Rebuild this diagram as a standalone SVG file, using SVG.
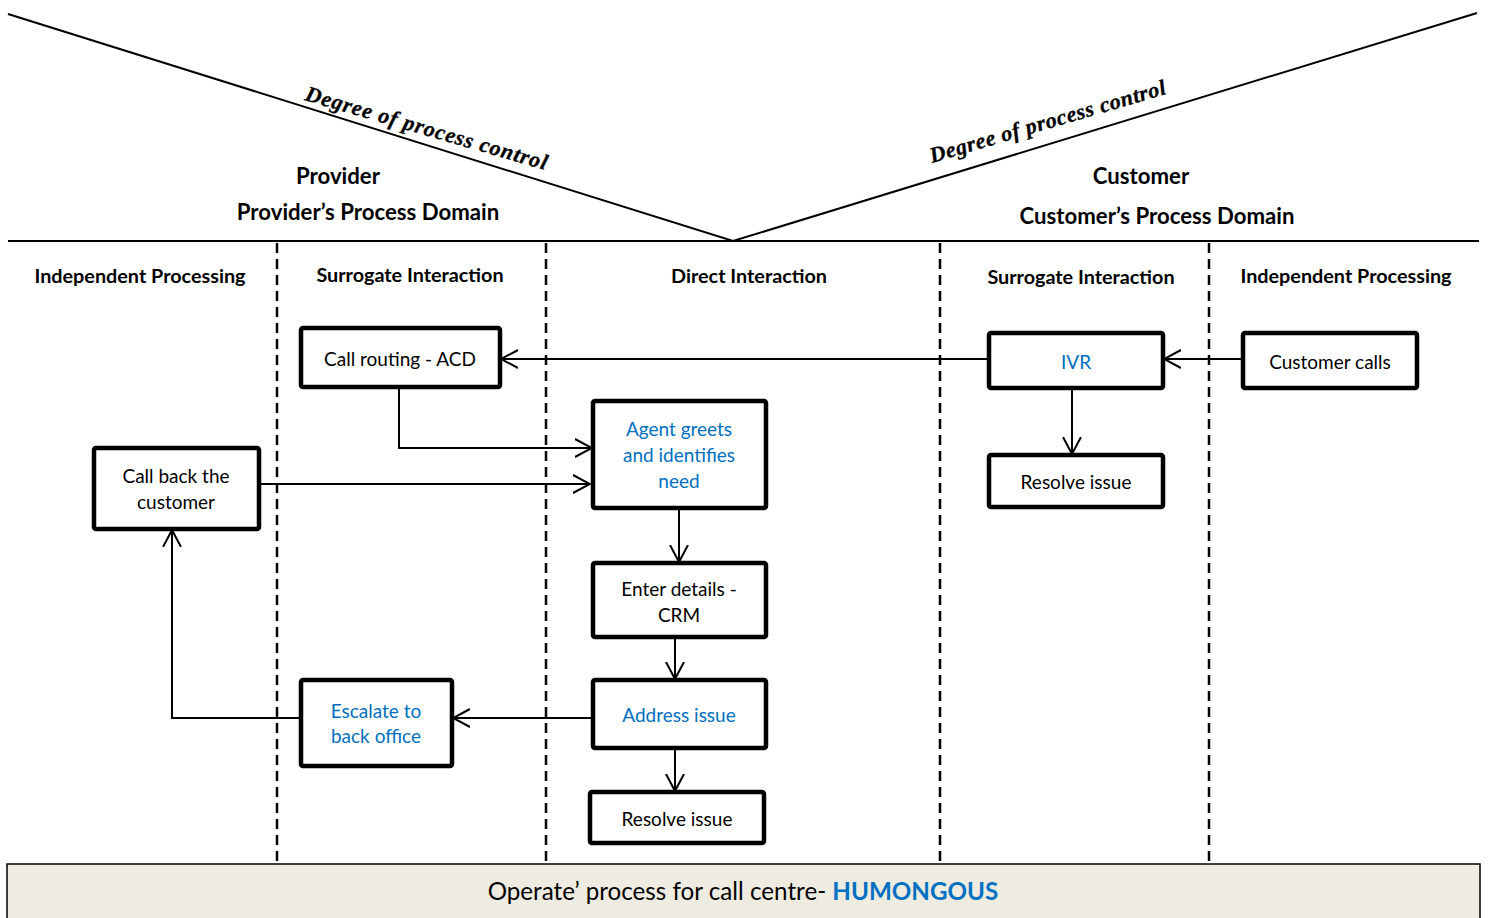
<svg xmlns="http://www.w3.org/2000/svg" width="1491" height="918" viewBox="0 0 1491 918">
  <style>
    .bg { fill: #ffffff; }
    .frame { stroke: #000; stroke-width: 2; fill: none; }
    .lane { stroke: #000; stroke-width: 2.5; stroke-dasharray: 10 6; fill: none; }
    .box { fill: #ffffff; stroke: #000; stroke-width: 4.5; }
    .conn { stroke: #000; stroke-width: 2; fill: none; marker-end: url(#arrow); }
    .lbl { font-family: Lato, "Open Sans", "Liberation Sans", sans-serif; font-size: 19px; fill: #000; text-anchor: middle; }
    .blue { fill: #0070C0; }
    .hdr { font-family: Lato, "Open Sans", "Liberation Sans", sans-serif; font-size: 19.8px; font-weight: bold; fill: #000; text-anchor: middle; }
    .big { font-family: Lato, "Open Sans", "Liberation Sans", sans-serif; font-size: 22.2px; font-weight: bold; fill: #000; text-anchor: middle; }
    .slope { font-family: "Liberation Serif", "Times New Roman", serif; font-size: 22px; font-style: italic; font-weight: bold; fill: #000; stroke: #000; stroke-width: 0.3; }
    .foot { font-family: Lato, "Open Sans", "Liberation Sans", sans-serif; font-size: 24.2px; fill: #000; text-anchor: middle; }
  </style>
  <defs>
    <marker id="arrow" viewBox="0 0 18 20" refX="17" refY="10" markerWidth="18" markerHeight="20" markerUnits="userSpaceOnUse" orient="auto">
      <path d="M0,1 L17,10 L0,19" fill="none" stroke="#000" stroke-width="2"/>
    </marker>
  </defs>

  <rect class="bg" x="0" y="0" width="1491" height="918"/>

  <!-- V of process control and domain divider -->
  <g id="control-v">
    <path class="frame" d="M8,14 L733,241 L1477,13"/>
    <line class="frame" x1="8" y1="241" x2="1479" y2="241"/>
    <text class="slope" transform="translate(304,100) rotate(16.2)" textLength="251" lengthAdjust="spacing">Degree of process control</text>
    <text class="slope" transform="translate(932,163) rotate(-16.4)" textLength="245" lengthAdjust="spacing">Degree of process control</text>
  </g>

  <!-- domain titles -->
  <g id="domains">
    <text class="big" x="338" y="184">Provider</text>
    <text class="big blue" x="368" y="220">Provider’s Process Domain</text>
    <text class="big" x="1141" y="184">Customer</text>
    <text class="big" x="1157" y="224">Customer’s Process Domain</text>
  </g>

  <!-- swimlane separators and headings -->
  <g id="lanes">
    <line class="lane" x1="277" y1="243" x2="277" y2="864"/>
    <line class="lane" x1="546" y1="243" x2="546" y2="864"/>
    <line class="lane" x1="940" y1="243" x2="940" y2="864"/>
    <line class="lane" x1="1209" y1="243" x2="1209" y2="864"/>
    <text class="hdr" x="140" y="283">Independent Processing</text>
    <text class="hdr" x="410" y="282">Surrogate Interaction</text>
    <text class="hdr" x="749" y="283">Direct Interaction</text>
    <text class="hdr" x="1081" y="284">Surrogate Interaction</text>
    <text class="hdr" x="1346" y="283">Independent Processing</text>
  </g>

  <!-- connectors -->
  <g id="connectors">
    <line class="conn" x1="989" y1="359" x2="501" y2="359"/>
    <line class="conn" x1="1243" y1="359" x2="1164" y2="359"/>
    <line class="conn" x1="1072" y1="388" x2="1072" y2="454"/>
    <polyline class="conn" points="399,388 399,448 592,448"/>
    <line class="conn" x1="259" y1="484" x2="590" y2="484"/>
    <line class="conn" x1="679" y1="508" x2="679" y2="562"/>
    <line class="conn" x1="675" y1="637" x2="675" y2="679"/>
    <line class="conn" x1="675" y1="748" x2="675" y2="791"/>
    <line class="conn" x1="593" y1="718" x2="453" y2="718"/>
    <polyline class="conn" points="301,718 172,718 172,530"/>
  </g>

  <g id="call-routing">
    <rect class="box" x="301" y="328" width="199" height="59" rx="2"/>
    <text class="lbl" x="400" y="366">Call routing - ACD</text>
  </g>
  <g id="ivr">
    <rect class="box" x="989" y="333" width="174" height="55" rx="2"/>
    <text class="lbl blue" x="1076" y="369">IVR</text>
  </g>
  <g id="customer-calls">
    <rect class="box" x="1243" y="333" width="174" height="55" rx="2"/>
    <text class="lbl" x="1330" y="369">Customer calls</text>
  </g>
  <g id="resolve-ivr">
    <rect class="box" x="989" y="455" width="174" height="52" rx="2"/>
    <text class="lbl" x="1076" y="489">Resolve issue</text>
  </g>
  <g id="agent-greets">
    <rect class="box" x="593" y="401" width="173" height="107" rx="2"/>
    <text class="lbl blue" x="679" y="436">Agent greets</text>
    <text class="lbl blue" x="679" y="462">and identifies</text>
    <text class="lbl blue" x="679" y="488">need</text>
  </g>
  <g id="call-back">
    <rect class="box" x="94" y="448" width="165" height="81" rx="2"/>
    <text class="lbl" x="176" y="483">Call back the</text>
    <text class="lbl" x="176" y="509">customer</text>
  </g>
  <g id="enter-details">
    <rect class="box" x="593" y="563" width="173" height="74" rx="2"/>
    <text class="lbl" x="679" y="596">Enter details -</text>
    <text class="lbl" x="679" y="622">CRM</text>
  </g>
  <g id="address-issue">
    <rect class="box" x="593" y="680" width="173" height="68" rx="2"/>
    <text class="lbl blue" x="679" y="722">Address issue</text>
  </g>
  <g id="resolve-agent">
    <rect class="box" x="590" y="792" width="174" height="51" rx="2"/>
    <text class="lbl" x="677" y="826">Resolve issue</text>
  </g>
  <g id="escalate">
    <rect class="box" x="301" y="680" width="151" height="86" rx="2"/>
    <text class="lbl blue" x="376" y="718">Escalate to</text>
    <text class="lbl blue" x="376" y="743">back office</text>
  </g>

  <!-- footer band -->
  <g id="footer">
    <rect x="7" y="864" width="1473" height="60" fill="#EEEBE1" stroke="#000" stroke-width="1.5"/>
    <text class="foot" x="743" y="900">Operate’ process for call centre- <tspan font-weight="bold" fill="#0070C0">HUMONGOUS</tspan></text>
  </g>
</svg>
